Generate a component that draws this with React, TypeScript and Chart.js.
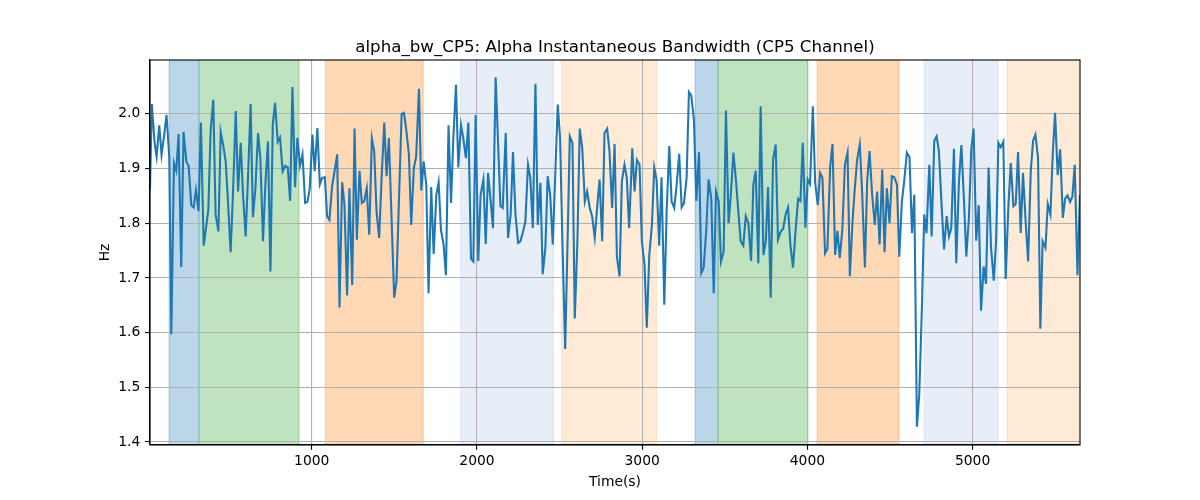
import React, { useEffect, useRef } from "react";
import { Chart, registerables } from "chart.js";

Chart.register(...registerables);

const TITLE = "alpha_bw_CP5: Alpha Instantaneous Bandwidth (CP5 Channel)";
const X_LABEL = "Time(s)";
const Y_LABEL = "Hz";

const times = [
  21, 32, 49, 61, 77, 91, 107, 121, 138, 150, 166, 180, 194, 210, 224, 241, 255, 271, 285, 299,
  315, 329, 346, 360, 374, 388, 404, 418, 435, 449, 465, 479, 493, 509, 523, 540, 554, 570, 584, 600,
  614, 630, 644, 659, 675, 689, 705, 719, 735,
  750, 764, 778, 794, 808, 824, 839, 855, 869, 883, 899, 913, 929, 944, 960, 974, 988, 1004, 1018, 1034,
  1049, 1063, 1079, 1093, 1107, 1123, 1138, 1154, 1168, 1184, 1198, 1214, 1228, 1245, 1259, 1273, 1289,
  1303, 1317, 1333, 1348, 1364, 1378, 1392, 1408, 1422, 1439, 1453, 1467,
  1483, 1499, 1513, 1527, 1544, 1558, 1572, 1588, 1602, 1618, 1632, 1649, 1663, 1677, 1693, 1707, 1723,
  1738, 1754, 1768, 1782, 1798, 1812, 1828, 1843, 1857, 1873, 1887, 1903, 1917, 1933, 1948, 1964, 1978,
  1992, 2008, 2022, 2039, 2053, 2067, 2083, 2097, 2113, 2142, 2156, 2174, 2188,
  2204, 2218, 2233, 2249, 2263, 2279, 2293, 2309, 2323, 2338, 2354, 2368, 2384, 2398, 2414, 2428, 2443,
  2459, 2489, 2503, 2517, 2534, 2548, 2562, 2578, 2592, 2608, 2622, 2637, 2653, 2667, 2683, 2697, 2713,
  2728, 2742, 2758, 2772, 2788, 2802, 2818, 2833, 2847, 2863, 2877, 2893, 2907, 2921,
  2940, 2954, 2968, 2984, 2998, 3014, 3028, 3043, 3059, 3073, 3087, 3103, 3117, 3134, 3148, 3164, 3178,
  3194, 3208, 3224, 3239, 3253, 3269, 3283, 3297, 3313, 3328, 3344, 3358, 3372, 3388, 3402, 3418, 3433,
  3447, 3463, 3477, 3493, 3507, 3523, 3538, 3552, 3568, 3582, 3596, 3612, 3627, 3643,
  3659, 3673, 3687, 3703, 3717, 3734, 3748, 3762, 3778, 3792, 3808, 3822, 3839, 3853, 3869, 3883, 3897,
  3913, 3928, 3944, 3958, 3972, 3988, 4002, 4016, 4033, 4047, 4063, 4077, 4091, 4107, 4121, 4138, 4152,
  4168, 4182, 4196, 4212, 4227, 4243, 4257, 4273, 4287, 4301, 4317, 4332, 4348, 4362, 4376,
  4392, 4408, 4422, 4437, 4453, 4467, 4481, 4497, 4511, 4526, 4542, 4556, 4572, 4586, 4602, 4618, 4633,
  4647, 4663, 4677, 4693, 4707, 4721, 4738, 4752, 4768, 4782, 4796, 4812, 4827, 4843, 4857, 4871, 4887,
  4901, 4917, 4932, 4948, 4962, 4978, 4992, 5006, 5022, 5037, 5051, 5067, 5081, 5097,
  5111, 5128, 5142, 5156, 5170, 5186, 5200, 5216, 5231, 5247, 5261, 5275, 5291, 5305, 5321, 5336, 5352,
  5366, 5380, 5396, 5410, 5424, 5441, 5455, 5471, 5485, 5499, 5515, 5530, 5546, 5560, 5574, 5590, 5604,
  5618, 5635, 5650,
];

const values = [
  1.862, 2.018, 1.947, 1.922, 1.979, 1.925, 1.962, 1.998, 1.919, 1.597, 1.91, 1.896, 1.963, 1.72, 1.967,
  1.913, 1.904, 1.833, 1.829, 1.861, 1.822, 1.984, 1.759, 1.791, 1.825, 1.968, 2.026, 1.816, 1.785, 1.967,
  1.941, 1.913, 1.84, 1.747, 1.852, 2.005, 1.858, 1.947, 1.852, 1.776, 1.882, 2.018, 1.811, 1.864, 1.965,
  1.919, 1.767, 1.87, 1.95,
  1.712, 1.98, 2.02, 1.949, 1.957, 1.895, 1.905, 1.902, 1.841, 2.049, 1.866, 1.956, 1.905, 1.926, 1.837,
  1.839, 1.864, 1.962, 1.895, 1.974, 1.871, 1.883, 1.884, 1.813, 1.806, 1.867, 1.895, 1.926, 1.646, 1.875,
  1.834, 1.668, 1.864, 1.687, 1.973, 1.77, 1.896, 1.837, 1.84, 1.864, 1.779, 1.955, 1.932, 1.822, 1.773,
  1.877, 1.984, 1.886, 1.956,
  1.81, 1.664, 1.694, 1.834, 2.0, 2.002, 1.971, 1.926, 1.797, 1.901, 1.922, 2.046, 1.86, 1.913, 1.871,
  1.672, 1.866, 1.744, 1.852, 1.875, 1.788, 1.761, 1.705, 1.979, 1.837, 1.956, 2.053, 1.902, 1.98, 1.956,
  1.919, 1.984, 1.735, 1.73, 1.998, 1.731, 1.852, 1.88, 1.762, 1.892, 1.84, 1.791, 2.067, 1.831, 1.828,
  1.965, 1.773,
  1.816, 1.93, 1.816, 1.764, 1.767, 1.785, 1.803, 1.907, 1.883, 1.791, 2.055, 1.797, 1.874, 1.707, 1.755,
  1.886, 1.852, 1.761, 2.017, 1.956, 1.767, 1.57, 1.761, 1.959, 1.947, 1.626, 1.767, 1.973, 1.938, 1.84,
  1.858, 1.828, 1.813, 1.774, 1.831, 1.88, 1.767, 1.965, 1.973, 1.932, 1.828, 1.945, 1.739, 1.703, 1.877,
  1.907, 1.883, 1.791,
  1.937, 1.858, 1.916, 1.907, 1.767, 1.724, 1.609, 1.742, 1.797, 1.902, 1.88, 1.759, 1.884, 1.651, 1.822,
  1.941, 1.84, 1.828, 1.868, 1.927, 1.829, 1.837, 1.883, 2.04, 2.034, 1.99, 1.841, 1.93, 1.709, 1.718,
  1.788, 1.88, 1.846, 1.672, 1.858, 1.84, 1.73, 1.748, 2.006, 1.8, 1.858, 1.929, 1.877, 1.822, 1.767,
  1.759, 1.813, 1.8,
  1.731, 1.871, 1.896, 1.727, 2.014, 1.742, 1.767, 1.866, 1.664, 1.916, 1.944, 1.77, 1.785, 1.79, 1.817,
  1.829, 1.761, 1.719, 1.785, 1.845, 1.841, 1.947, 1.792, 1.88, 1.872, 2.014, 1.874, 1.833, 1.892, 1.883,
  1.745, 1.753, 1.904, 1.945, 1.742, 1.786, 1.736, 1.791, 1.907, 1.929, 1.703, 1.803, 1.864, 1.916, 1.944,
  1.852, 1.719, 1.877, 1.932,
  1.852, 1.797, 1.858, 1.761, 1.898, 1.747, 1.864, 1.8, 1.886, 1.884, 1.871, 1.739, 1.84, 1.877, 1.929,
  1.921, 1.782, 1.852, 1.428, 1.486, 1.645, 1.816, 1.782, 1.907, 1.776, 1.951, 1.959, 1.932, 1.834, 1.752,
  1.813, 1.776, 1.791, 1.936, 1.727, 1.874, 1.943, 1.84, 1.739, 1.813, 1.935, 1.973, 1.768, 1.833, 1.64,
  1.721, 1.689, 1.902,
  1.758, 1.695, 1.767, 1.947, 1.939, 1.949, 1.698, 1.828, 1.91, 1.831, 1.835, 1.93, 1.782, 1.892, 1.803,
  1.73, 1.895, 1.951, 1.962, 1.919, 1.607, 1.767, 1.755, 1.835, 1.816, 1.926, 2.002, 1.888, 1.935, 1.81,
  1.845, 1.851, 1.839, 1.849, 1.907, 1.705, 1.852,
];

const spanStarts = [137, 319, 1083, 1901, 2513, 3321, 3461, 4059, 4707, 5210];
const spanEnds = [315, 923, 1675, 2463, 3087, 3458, 4002, 4554, 5154, 5700];
const spanColors = [
  "rgba(31,119,180,0.3)",
  "rgba(44,160,44,0.3)",
  "rgba(255,127,14,0.3)",
  "rgba(174,199,232,0.3)",
  "rgba(255,187,120,0.3)",
  "rgba(31,119,180,0.3)",
  "rgba(44,160,44,0.3)",
  "rgba(255,127,14,0.3)",
  "rgba(174,199,232,0.3)",
  "rgba(255,187,120,0.3)",
];

const xTicks = [1000, 2000, 3000, 4000, 5000];
const yTicks = [1.4, 1.5, 1.6, 1.7, 1.8, 1.9, 2.0];
const Y_MIN = 1.3945;
const Y_MAX = 2.0985;

const FONT = "'DejaVu Sans', 'Liberation Sans', sans-serif";

const spansPlugin = {
  id: "spans",
  beforeDraw(chart: any) {
    const { ctx, chartArea, scales } = chart;
    const x = scales.x;
    ctx.save();
    ctx.beginPath();
    ctx.rect(chartArea.left, chartArea.top, chartArea.right - chartArea.left, chartArea.bottom - chartArea.top);
    ctx.clip();
    for (let i = 0; i < spanStarts.length; i++) {
      const x0 = x.getPixelForValue(spanStarts[i]);
      const x1 = x.getPixelForValue(spanEnds[i]);
      ctx.fillStyle = spanColors[i];
      ctx.fillRect(x0, chartArea.top, x1 - x0, chartArea.bottom - chartArea.top);
      ctx.strokeStyle = spanColors[i];
      ctx.lineWidth = 1.2;
      ctx.beginPath();
      ctx.moveTo(x0, chartArea.top);
      ctx.lineTo(x0, chartArea.bottom);
      ctx.moveTo(x1, chartArea.top);
      ctx.lineTo(x1, chartArea.bottom);
      ctx.stroke();
    }
    ctx.restore();
  },
};

const framePlugin = {
  id: "frame",
  afterDraw(chart: any) {
    const { ctx, chartArea } = chart;
    ctx.save();
    ctx.strokeStyle = "#000";
    ctx.lineWidth = 1.1;
    ctx.strokeRect(chartArea.left, chartArea.top, chartArea.right - chartArea.left, chartArea.bottom - chartArea.top);
    const cx = (chartArea.left + chartArea.right) / 2;
    ctx.fillStyle = "#000";
    ctx.textAlign = "center";
    ctx.textBaseline = "alphabetic";
    ctx.font = `16.67px ${FONT}`;
    ctx.fillText(TITLE, cx, 51.7);
    ctx.font = `13.89px ${FONT}`;
    ctx.fillText(X_LABEL, cx, 486);
    ctx.translate(105, (chartArea.top + chartArea.bottom) / 2);
    ctx.rotate(-Math.PI / 2);
    ctx.textBaseline = "middle";
    ctx.fillText(Y_LABEL, 0, 0);
    ctx.restore();
  },
};

export default function App() {
  const ref = useRef<HTMLCanvasElement | null>(null);
  useEffect(() => {
    if (!ref.current) return;
    const chart = new Chart(ref.current, {
      type: "line",
      data: {
        datasets: [
          {
            data: times.map((t, i) => ({ x: t, y: values[i] })),
            borderColor: "#1f77b4",
            borderWidth: 2.08,
            pointRadius: 0,
            tension: 0,
            fill: false,
          },
        ],
      },
      options: {
        animation: false,
        responsive: false,
        devicePixelRatio: 1,
        layout: { padding: { left: 0, right: 120, top: 60, bottom: 0 } },
        plugins: { legend: { display: false }, title: { display: false }, tooltip: { enabled: false } },
        scales: {
          x: {
            type: "linear",
            min: times[0],
            max: times[times.length - 1],
            afterBuildTicks: (scale: any) => {
              scale.ticks = xTicks.map((v) => ({ value: v }));
            },
            afterFit: (scale: any) => {
              scale.height = 55;
            },
            grid: { color: "#b0b0b0", lineWidth: 1.1, tickColor: "#000", tickLength: 4.86, drawTicks: true },
            border: { display: true, color: "#000", width: 1.1 },
            ticks: {
              color: "#000",
              font: { family: FONT, size: 13.89 },
              padding: 3,
              maxRotation: 0,
              autoSkip: false,
              callback: (v: any) => String(v),
            },
          },
          y: {
            type: "linear",
            min: Y_MIN,
            max: Y_MAX,
            afterBuildTicks: (scale: any) => {
              scale.ticks = yTicks.map((v) => ({ value: v }));
            },
            afterFit: (scale: any) => {
              scale.width = 150;
            },
            grid: { color: "#b0b0b0", lineWidth: 1.1, tickColor: "#000", tickLength: 4.86, drawTicks: true },
            border: { display: true, color: "#000", width: 1.1 },
            ticks: {
              color: "#000",
              font: { family: FONT, size: 13.89 },
              padding: 4.86,
              autoSkip: false,
              callback: (v: any) => Number(v).toFixed(1),
            },
          },
        },
      },
      plugins: [spansPlugin, framePlugin],
    });
    return () => chart.destroy();
  }, []);
  return (
    <div style={{ position: "absolute", left: 0, top: 0, width: 1200, height: 500, background: "#fff" }}>
      <canvas ref={ref} width={1200} height={500} style={{ display: "block" }} />
    </div>
  );
}
